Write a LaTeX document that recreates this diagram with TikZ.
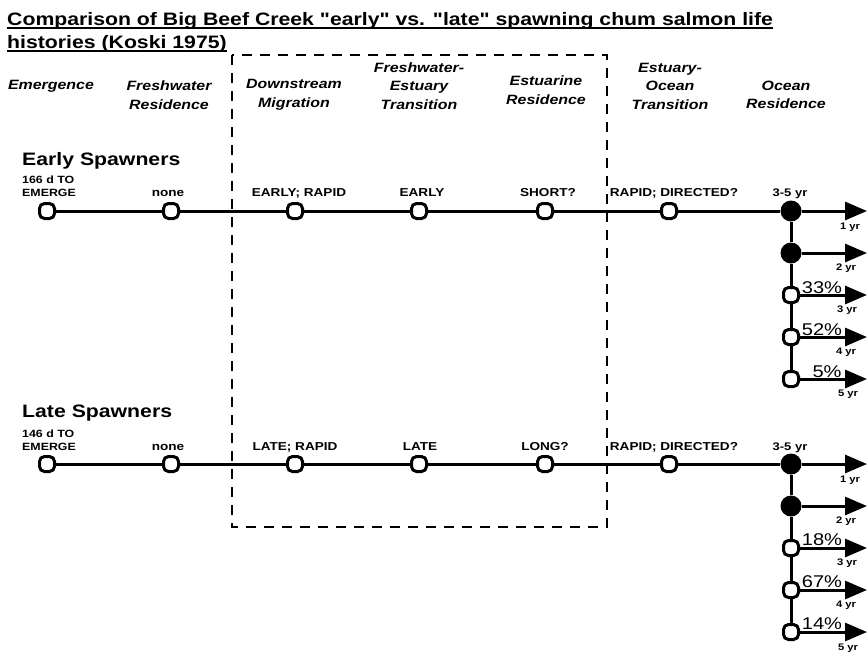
\documentclass[tikz,border=0pt]{standalone}
\usepackage{fontspec}
\setmainfont{Liberation Sans}[FakeStretch=1.18,Ligatures=TeXOff]
\usetikzlibrary{arrows.meta}

\begin{document}
\begin{tikzpicture}[x=1pt,y=-1pt,
  stage/.style={draw,line width=3pt,fill=white,rounded corners=5pt,minimum size=15pt,inner sep=0pt},
  adult/.style={circle,fill=black,minimum size=21pt,inner sep=0pt},
  lifeline/.style={line width=3pt},
  run/.style={line width=3pt,-{Triangle[length=22pt,width=18pt]}},
  head/.style={font=\fontsize{13.5}{18.5}\selectfont\bfseries\itshape,align=center,inner sep=0pt},
  tag/.style={font=\fontsize{11.5}{12}\selectfont\bfseries,anchor=base,inner sep=0pt},
  yr/.style={font=\fontsize{9.5}{10}\selectfont\bfseries,anchor=base,inner sep=0pt},
  pct/.style={font=\fontsize{17}{18}\selectfont,anchor=base,inner sep=0pt},
  group/.style={font=\fontsize{18}{19}\selectfont\bfseries,anchor=base west,inner sep=0pt},
  wait/.style={font=\fontsize{10.5}{12.5}\selectfont\bfseries,anchor=base west,align=left,inner sep=0pt}
]
\useasboundingbox (0,0) rectangle (867,654);

% title, underlined by hand
\node[anchor=base west,inner sep=0pt,font=\fontsize{18}{20}\selectfont\bfseries] (t1) at (7,25)
  {Comparison of Big Beef Creek "early" vs. "late" spawning chum salmon life};
\node[anchor=base west,inner sep=0pt,font=\fontsize{18}{20}\selectfont\bfseries] (t2) at (7,48)
  {histories (Koski 1975)};
\draw[line width=1.5pt] ([yshift=-3pt]t1.base west) -- ([yshift=-3pt]t1.base east);
\draw[line width=1.5pt] ([yshift=-3pt]t2.base west) -- ([yshift=-3pt]t2.base east);

% stages inside the estuary window
\draw[line width=2pt,dash pattern=on 10pt off 8pt] (232,55) rectangle (607,527);

% column heads
\node[head] (h1) at (51,86) {Emergence};
\node[head] (h2) at (169,95) {Freshwater\\Residence};
\node[head] (h3) at (294,95) {Downstream\\Migration};
\node[head] (h4) at (419,86) {Freshwater-\\Estuary\\Transition};
\node[head] (h5) at (546,90) {Estuarine\\Residence};
\node[head] (h6) at (670,86) {Estuary-\\Ocean\\Transition};
\node[head] (h7) at (786,95) {Ocean\\Residence};

% early spawners
\node[group] (early) at (22,165) {Early Spawners};
\node[wait] (ewait) at (22,196) {166 d TO\\EMERGE};
\node[stage] (e1) at (47,211) {};
\node[stage] (e2) at (171,211) {};
\node[stage] (e3) at (295,211) {};
\node[stage] (e4) at (419,211) {};
\node[stage] (e5) at (545,211) {};
\node[stage] (e6) at (669,211) {};
\node[adult] (e7) at (791,211) {};
\node[adult] (e8) at (791,253) {};
\node[stage] (e9) at (791,295) {};
\node[stage] (e10) at (791,337) {};
\node[stage] (e11) at (791,379) {};
\node[tag] (et2) at (168,196) {none};
\node[tag] (et3) at (299,196) {EARLY; RAPID};
\node[tag] (et4) at (422,196) {EARLY};
\node[tag] (et5) at (548,196) {SHORT?};
\node[tag] (et6) at (674,196) {RAPID; DIRECTED?};
\node[tag,font=\fontsize{11}{12}\selectfont\bfseries] (et7) at (790,196) {3-5 yr};
\coordinate (ey1) at (867,211);
\coordinate (ey2) at (867,253);
\coordinate (ey3) at (867,295);
\coordinate (ey4) at (867,337);
\coordinate (ey5) at (867,379);
\draw[lifeline] (e1) -- (e2) -- (e3) -- (e4) -- (e5) -- (e6) -- (e7);
\draw[lifeline] (e7) -- (e8) -- (e9) -- (e10) -- (e11);
\draw[run] (e7) -- (ey1);
\draw[run] (e8) -- (ey2);
\draw[run] (e9) -- (ey3);
\draw[run] (e10) -- (ey4);
\draw[run] (e11) -- (ey5);
\node[yr] (eyr1) at (850,229) {1 yr};
\node[yr] (eyr2) at (846,270) {2 yr};
\node[yr] (eyr3) at (847,312) {3 yr};
\node[yr] (eyr4) at (846,354) {4 yr};
\node[yr] (eyr5) at (848,396) {5 yr};
\node[pct] (ep3) at (822,293) {33\%};
\node[pct] (ep4) at (822,335) {52\%};
\node[pct] (ep5) at (827,377) {5\%};

% late spawners
\node[group] (late) at (22,417) {Late Spawners};
\node[wait] (lwait) at (22,450) {146 d TO\\EMERGE};
\node[stage] (l1) at (47,464) {};
\node[stage] (l2) at (171,464) {};
\node[stage] (l3) at (295,464) {};
\node[stage] (l4) at (419,464) {};
\node[stage] (l5) at (545,464) {};
\node[stage] (l6) at (669,464) {};
\node[adult] (l7) at (791,464) {};
\node[adult] (l8) at (791,506) {};
\node[stage] (l9) at (791,548) {};
\node[stage] (l10) at (791,590) {};
\node[stage] (l11) at (791,632) {};
\node[tag] (lt2) at (168,450) {none};
\node[tag] (lt3) at (295,450) {LATE; RAPID};
\node[tag] (lt4) at (420,450) {LATE};
\node[tag] (lt5) at (545,450) {LONG?};
\node[tag] (lt6) at (674,450) {RAPID; DIRECTED?};
\node[tag,font=\fontsize{11}{12}\selectfont\bfseries] (lt7) at (790,450) {3-5 yr};
\coordinate (ly1) at (867,464);
\coordinate (ly2) at (867,506);
\coordinate (ly3) at (867,548);
\coordinate (ly4) at (867,590);
\coordinate (ly5) at (867,632);
\draw[lifeline] (l1) -- (l2) -- (l3) -- (l4) -- (l5) -- (l6) -- (l7);
\draw[lifeline] (l7) -- (l8) -- (l9) -- (l10) -- (l11);
\draw[run] (l7) -- (ly1);
\draw[run] (l8) -- (ly2);
\draw[run] (l9) -- (ly3);
\draw[run] (l10) -- (ly4);
\draw[run] (l11) -- (ly5);
\node[yr] (lyr1) at (850,482) {1 yr};
\node[yr] (lyr2) at (846,523) {2 yr};
\node[yr] (lyr3) at (847,565) {3 yr};
\node[yr] (lyr4) at (846,607) {4 yr};
\node[yr] (lyr5) at (848,650) {5 yr};
\node[pct] (lp3) at (822,545) {18\%};
\node[pct] (lp4) at (822,587) {67\%};
\node[pct] (lp5) at (822,629) {14\%};
\end{tikzpicture}
\end{document}
